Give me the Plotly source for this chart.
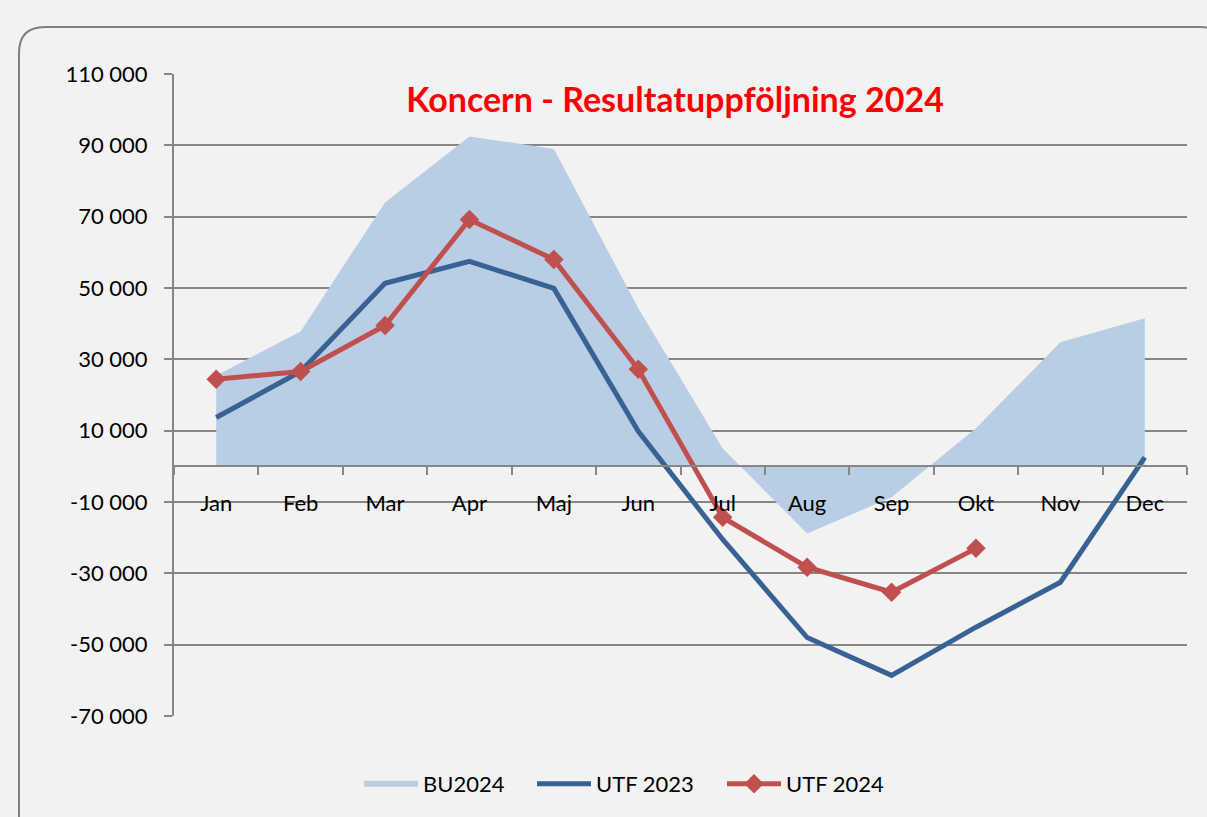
import plotly.graph_objects as go

months = ["Jan", "Feb", "Mar", "Apr", "Maj", "Jun", "Jul", "Aug", "Sep", "Okt", "Nov", "Dec"]
bu2024 = [25500, 37800, 74000, 92500, 89000, 44300, 5000, -18800, -8700, 10700, 34800, 41500]
utf2023 = [13700, 26600, 51300, 57500, 49900, 9800, -20500, -48000, -58600, -45100, -32500, 2500]
utf2024 = [24400, 26600, 39500, 69200, 58000, 27200, -14300, -28300, -35300, -23000]
months_2024 = months[:len(utf2024)]

ytickvals = list(range(-70000, 110001, 20000))
yticktext = [f"{v:,}".replace(",", " ") for v in ytickvals]

# body margin removed below; figure fills the whole window
W, H = 1207, 817
L_S, R_S, T_S, B_S = 174, 1187, 74, 716   # plot area in screen px
ML, MT = L_S, T_S
MR, MB = W - R_S, H - B_S
PW, PH = W - ML - MR, H - MT - MB

def px(x):
    return (x - L_S) / PW

def py(y):
    return (B_S - y) / PH

FONT = "Lato, Carlito, Calibri, sans-serif"
GRID = "#868686"

fig = go.Figure()
fig.add_trace(go.Scatter(x=months, y=bu2024, name="BU2024", mode="none",
                         fill="tozeroy", fillcolor="#b9cde5", legend="legend"))
fig.add_trace(go.Scatter(x=months, y=utf2023, name="UTF 2023", mode="lines",
                         line=dict(color="#386194", width=5), legend="legend2"))
fig.add_trace(go.Scatter(x=months_2024, y=utf2024, name="UTF 2024", mode="lines+markers",
                         line=dict(color="#c0504d", width=5),
                         marker=dict(symbol="diamond", size=15, color="#c0504d"),
                         legend="legend3"))

# rounded frame
x0, y0, x1, y1, r = 19, 27, 1226, 842, 26
path = (f"M {px(x0)},{py(y0 + r)} "
        f"Q {px(x0)},{py(y0)} {px(x0 + r)},{py(y0)} "
        f"L {px(x1 - r)},{py(y0)} "
        f"Q {px(x1)},{py(y0)} {px(x1)},{py(y0 + r)} "
        f"L {px(x1)},{py(y1 - r)} "
        f"Q {px(x1)},{py(y1)} {px(x1 - r)},{py(y1)} "
        f"L {px(x0 + r)},{py(y1)} "
        f"Q {px(x0)},{py(y1)} {px(x0)},{py(y1 - r)} Z")
fig.add_shape(type="path", path=path, xref="paper", yref="paper",
              line=dict(color="#7f7f7f", width=2), layer="below")

def leg(xs):
    return dict(orientation="h", x=px(xs), xanchor="left", y=py(784), yanchor="middle",
                font=dict(size=22), bgcolor="rgba(0,0,0,0)", itemwidth=54)

fig.update_layout(
    width=W, height=H,
    margin=dict(l=ML, r=MR, t=MT, b=MB),
    paper_bgcolor="#f2f2f2", plot_bgcolor="#f2f2f2",
    font=dict(family=FONT, size=22, color="#000000"),
    title=dict(text="<b>Koncern - Resultatuppföljning 2024</b>",
               font=dict(family=FONT, size=34, color="#ff0000"),
               x=675 / W, xanchor="center", y=1 - 100 / H, yanchor="middle"),
    showlegend=True,
    legend=leg(359), legend2=leg(532), legend3=leg(722),
    xaxis=dict(type="category", range=[-0.5, 11.5], anchor="free", position=py(466),
               showline=True, linecolor=GRID, linewidth=2,
               ticks="outside", tickson="boundaries", ticklen=8, tickwidth=2, tickcolor=GRID,
               showgrid=False, ticklabelstandoff=18, tickfont=dict(size=22)),
    yaxis=dict(range=[-70000, 110000], tickvals=ytickvals, ticktext=yticktext,
               showline=True, linecolor=GRID, linewidth=2,
               ticks="outside", ticklen=8, tickwidth=2, tickcolor=GRID,
               showgrid=True, gridcolor=GRID, gridwidth=2, zeroline=False,
               ticklabelstandoff=12, tickfont=dict(size=22)),
)

fig.write_html("out.html", config={"displayModeBar": False},
               post_script="document.body.style.margin='0';document.body.style.overflow='hidden';")
